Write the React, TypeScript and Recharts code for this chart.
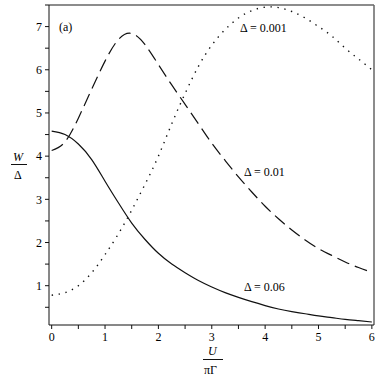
import { LineChart, Line, XAxis, YAxis, ReferenceLine } from "recharts";

// U / (pi Gamma) sample points shared by all three curves
const uGrid = [
  0, 0.25, 0.5, 0.75, 1, 1.25, 1.5, 1.75, 2, 2.25, 2.5, 2.75, 3,
  3.25, 3.5, 3.75, 4, 4.25, 4.5, 4.75, 5, 5.25, 5.5, 5.75, 6,
];

// W / Delta for Delta = 0.06 (solid)
const w006 = [
  4.58, 4.5, 4.28, 3.92, 3.42, 2.92, 2.45, 2.07, 1.75, 1.5, 1.3, 1.12, 0.97,
  0.84, 0.73, 0.63, 0.54, 0.46, 0.4, 0.35, 0.3, 0.26, 0.22, 0.19, 0.16,
];

// Delta = 0.01 (dashed)
const w001 = [
  4.13, 4.33, 4.88, 5.55, 6.2, 6.7, 6.84, 6.58, 6.12, 5.65, 5.2, 4.75, 4.3,
  3.9, 3.52, 3.17, 2.84, 2.55, 2.29, 2.06, 1.86, 1.7, 1.55, 1.42, 1.31,
];

// Delta = 0.001 (dotted)
const w0001 = [
  0.78, 0.84, 1.0, 1.3, 1.72, 2.2, 2.75, 3.35, 4.0, 4.75, 5.45, 6.08, 6.57,
  6.93, 7.2, 7.37, 7.45, 7.44, 7.35, 7.2, 7.0, 6.78, 6.5, 6.25, 6.0,
];

const xTicks = [0, 0.5, 1, 1.5, 2, 2.5, 3, 3.5, 4, 4.5, 5, 5.5, 6];
const yTicks = [0.5, 1, 1.5, 2, 2.5, 3, 3.5, 4, 4.5, 5, 5.5, 6, 6.5, 7, 7.5];

const X_DOMAIN: [number, number] = [-0.05, 6.04];
const Y_DOMAIN: [number, number] = [0.09, 7.5];

const data = uGrid.map((u, i) => ({
  u,
  a: w006[i],
  b: w001[i],
  c: w0001[i],
}));

const FONT = "'Liberation Serif', 'Times New Roman', serif";
const tickStyle = { fontSize: 12, fill: "#000", fontFamily: FONT };

// only integers get a label, half steps are bare tick marks
const intLabel = (v: number) => (Number.isInteger(v) ? String(v) : "");

const txt = (left: number, top: number, extra: React.CSSProperties = {}) => ({
  position: "absolute" as const,
  left,
  top,
  fontFamily: FONT,
  fontSize: 12,
  color: "#000",
  lineHeight: "12px",
  whiteSpace: "nowrap" as const,
  ...extra,
});

export default function App() {
  return (
    <div style={{ position: "absolute", left: 0, top: 0, width: 382, height: 382, background: "#fff" }}>
      <LineChart
        width={382}
        height={382}
        data={data}
        margin={{ top: 5, right: 8, bottom: 27, left: 19 }}
      >
        <XAxis
          dataKey="u"
          type="number"
          domain={X_DOMAIN}
          ticks={xTicks}
          allowDataOverflow
          tickFormatter={intLabel}
          tick={tickStyle}
          tickSize={4}
          tickMargin={3}
          height={30}
          stroke="#111"
          interval={0}
        />
        <YAxis
          type="number"
          domain={Y_DOMAIN}
          ticks={yTicks}
          allowDataOverflow
          tickFormatter={intLabel}
          tick={tickStyle}
          tickSize={4}
          tickMargin={3}
          width={30}
          stroke="#111"
          interval={0}
        />

        {/* top and right sides of the frame */}
        <ReferenceLine y={7.5} stroke="#666" strokeWidth={1.5} />
        <ReferenceLine x={6.04} stroke="#666" strokeWidth={1.5} />

        <Line
          type="natural"
          dataKey="a"
          stroke="#111"
          strokeWidth={1.2}
          dot={false}
          isAnimationActive={false}
        />
        <Line
          type="natural"
          dataKey="b"
          stroke="#111"
          strokeWidth={1.2}
          strokeDasharray="13 6"
          dot={false}
          isAnimationActive={false}
        />
        <Line
          type="natural"
          dataKey="c"
          stroke="#111"
          strokeWidth={1.4}
          strokeDasharray="1.4 5.6"
          dot={false}
          isAnimationActive={false}
        />
      </LineChart>

      {/* panel tag and curve labels */}
      <span style={txt(59, 21)}>(a)</span>
      <span style={txt(240, 22)}>Δ = 0.001</span>
      <span style={txt(244, 166)}>Δ = 0.01</span>
      <span style={txt(244, 281)}>Δ = 0.06</span>

      {/* y axis label W / Δ */}
      <span style={txt(13, 151, { fontStyle: "italic" })}>W</span>
      <div style={{ position: "absolute", left: 11, top: 164, width: 16, height: 1, background: "#111" }} />
      <span style={txt(14, 169)}>Δ</span>

      {/* x axis label U / πΓ */}
      <span style={txt(208, 345, { fontStyle: "italic" })}>U</span>
      <div style={{ position: "absolute", left: 203, top: 359, width: 20, height: 1, background: "#111" }} />
      <span style={txt(204, 364)}>πΓ</span>
    </div>
  );
}
